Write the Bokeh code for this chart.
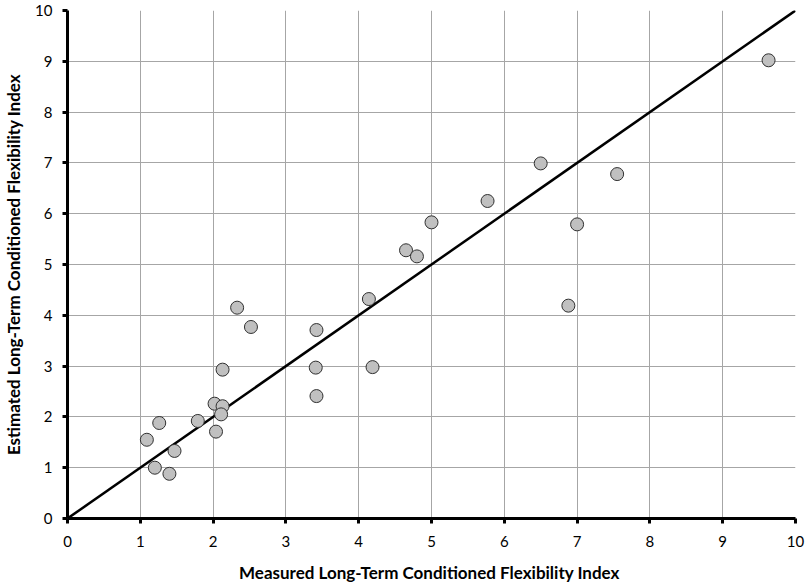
from bokeh.plotting import figure
from bokeh.models import Range1d, FixedTicker
from bokeh.embed import file_html
from bokeh.resources import INLINE

measured = [2.33, 2.52, 3.42, 2.13, 3.41, 3.42, 2.02, 2.13, 2.11, 1.79, 1.26, 2.04,
            1.09, 1.47, 1.20, 1.40, 6.50, 7.55, 5.77, 5.00, 7.00, 4.65, 4.80, 6.88,
            4.14, 4.19, 9.63]
estimated = [4.15, 3.77, 3.71, 2.93, 2.97, 2.41, 2.26, 2.21, 2.05, 1.92, 1.88, 1.71,
             1.55, 1.33, 1.00, 0.88, 6.99, 6.78, 6.25, 5.83, 5.79, 5.28, 5.16, 4.19,
             4.32, 2.98, 9.02]
line_x = [0, 10]
line_y = [0, 10]
ticks = list(range(0, 11))

p = figure(width=810, height=586, output_backend="svg", toolbar_location=None,
           x_range=Range1d(0, 10), y_range=Range1d(0, 10),
           min_border_left=66, min_border_right=15, min_border_top=10, min_border_bottom=68)
p.outline_line_color = None
p.background_fill_color = "white"

for ax in (p.xaxis[0], p.yaxis[0]):
    ax.ticker = FixedTicker(ticks=ticks)
    ax.axis_line_width = 3
    ax.axis_line_color = "black"
    ax.major_tick_line_width = 3
    ax.major_tick_line_color = "black"
    ax.major_tick_out = 5
    ax.major_tick_in = 0
    ax.minor_tick_line_color = None
    ax.major_label_text_font = "Lato"
    ax.major_label_text_font_size = "15px"
    ax.major_label_text_color = "black"
    ax.axis_label_text_font = "Lato"
    ax.axis_label_text_font_size = "17px"
    ax.axis_label_text_font_style = "bold"
    ax.axis_label_text_color = "black"

p.xaxis.axis_label = "Measured  Long-Term Conditioned Flexibility Index"
p.yaxis.axis_label = "Estimated Long-Term Conditioned Flexibility Index"
p.xaxis.major_label_standoff = 12
p.yaxis.major_label_standoff = 10
p.xaxis.axis_label_standoff = 12
p.yaxis.axis_label_standoff = 8

p.xgrid.ticker = FixedTicker(ticks=ticks)
p.ygrid.ticker = FixedTicker(ticks=ticks)
p.grid.grid_line_color = "#a6a6a6"
p.grid.grid_line_width = 1

p.line(line_x, line_y, line_color="black", line_width=2.5)
p.scatter(measured, estimated, size=13, fill_color="#c0c0c0", line_color="#303030", line_width=1)

open("out.html", "w").write(file_html(p, INLINE))
